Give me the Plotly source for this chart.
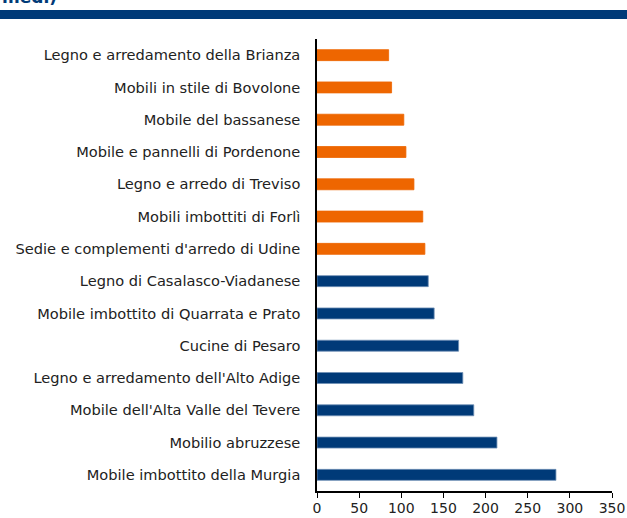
import plotly.graph_objects as go

# Distretti del mobile (ordine dall'alto verso il basso)
distretti = [
    "Legno e arredamento della Brianza",
    "Mobili in stile di Bovolone",
    "Mobile del bassanese",
    "Mobile e pannelli di Pordenone",
    "Legno e arredo di Treviso",
    "Mobili imbottiti di Forlì",
    "Sedie e complementi d'arredo di Udine",
    "Legno di Casalasco-Viadanese",
    "Mobile imbottito di Quarrata e Prato",
    "Cucine di Pesaro",
    "Legno e arredamento dell'Alto Adige",
    "Mobile dell'Alta Valle del Tevere",
    "Mobilio abruzzese",
    "Mobile imbottito della Murgia",
]
valori = [85, 88.5, 103, 105.5, 115, 125.5, 128, 132, 139, 168, 173, 186, 213.5, 283.5]
gruppo = ["nord"] * 7 + ["sud"] * 7

ARANCIO = "#EE6600"
BLU = "#003A78"

colori = [ARANCIO if g == "nord" else BLU for g in gruppo]
bordi = [ARANCIO if g == "nord" else "#6F8FB5" for g in gruppo]

fig = go.Figure(go.Bar(
    x=valori, y=distretti, orientation="h",
    marker=dict(color=colori, line=dict(color=bordi, width=0.8)),
    hoverinfo="x+y",
))

fig.update_yaxes(
    autorange="reversed", showline=True, linecolor="black", linewidth=1.5,
    ticks="", ticklabelstandoff=12, showgrid=False, automargin=False,
    tickfont=dict(family="DejaVu Sans", size=14.6, color="#222222"),
)
fig.update_xaxes(
    range=[0, 350], dtick=50, showline=True, linecolor="black", linewidth=1.5,
    ticks="outside", ticklen=5, tickcolor="black", showgrid=False, zeroline=False,
    automargin=False, ticklabelstandoff=-2,
    tickfont=dict(family="DejaVu Sans", size=14, color="#222222"),
)

# banda del titolo (tagliata in alto)
fig.add_shape(type="rect", xref="paper", yref="paper",
              x0=-2, x1=2, y0=1 + 20 / 452, y1=1 + 29 / 452,
              fillcolor=BLU, line_width=0, layer="above")
fig.add_annotation(text="<b>medi)</b>", xref="paper", yref="paper",
                   x=-317 / 295, y=1 + 30 / 452, xanchor="left", yanchor="bottom",
                   showarrow=False, font=dict(family="DejaVu Sans", size=17, color=BLU))

fig.update_layout(
    width=627, height=518, bargap=0.66,
    margin=dict(l=317, r=15, t=39, b=27),
    plot_bgcolor="white", paper_bgcolor="white", showlegend=False,
)

fig.write_html("out.html", config={"displayModeBar": False},
               post_script="document.body.style.margin='0';")
